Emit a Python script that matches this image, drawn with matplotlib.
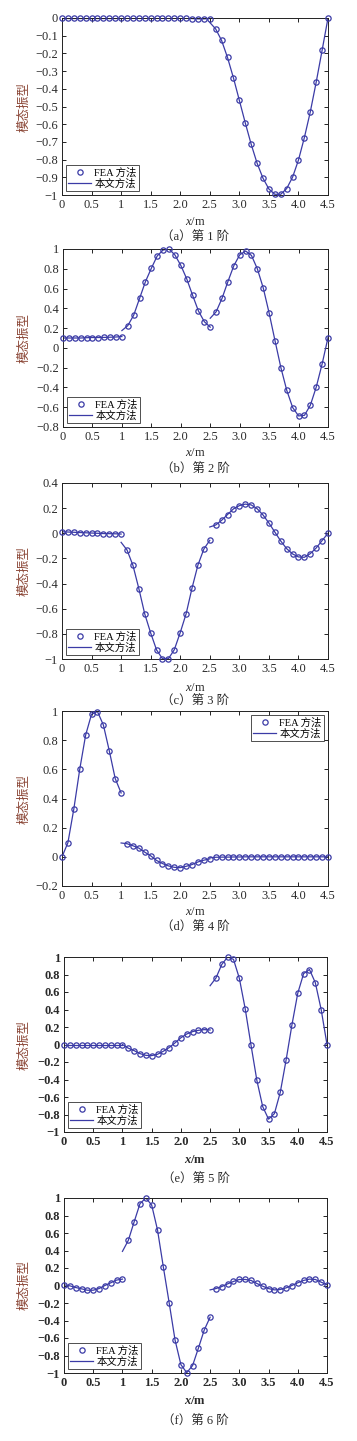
import matplotlib
matplotlib.use('agg')
import matplotlib.pyplot as plt
from matplotlib.ticker import FuncFormatter, MultipleLocator

plt.rcParams['font.family'] = ['Liberation Serif', 'Noto Sans CJK SC']
plt.rcParams['axes.unicode_minus'] = True
plt.rcParams['mathtext.fontset'] = 'custom'
plt.rcParams['mathtext.rm'] = 'Liberation Serif'
plt.rcParams['mathtext.it'] = 'Liberation Serif:italic'
plt.rcParams['mathtext.bf'] = 'Liberation Serif:bold'
plt.rcParams['mathtext.bfit'] = 'Liberation Serif:italic:bold'

# x positions of FEA nodes, step 0.1 m, split in three beam segments
x_seg1 = [0.0, 0.1, 0.2, 0.3, 0.4, 0.5, 0.6, 0.7, 0.8, 0.9, 1.0]
x_seg2 = [1.1, 1.2, 1.3, 1.4, 1.5, 1.6, 1.7, 1.8, 1.9, 2.0, 2.1, 2.2, 2.3, 2.4, 2.5]
x_seg3 = [2.6, 2.7, 2.8, 2.9, 3.0, 3.1, 3.2, 3.3, 3.4, 3.5, 3.6, 3.7, 3.8, 3.9,
          4.0, 4.1, 4.2, 4.3, 4.4, 4.5]

# mode 1
m1_seg1 = [0.0, 0.0, 0.0, 0.0, 0.0, 0.0, 0.0, 0.0, 0.0, 0.0, 0.0]
m1_seg2 = [0.0, 0.0, 0.0, 0.0, 0.0, 0.0, 0.0, 0.0, 0.0, -0.002, -0.002, -0.003, -0.005, -0.005, -0.003]
m1_seg3 = [-0.062, -0.127, -0.223, -0.338, -0.465, -0.592, -0.713, -0.82, -0.905, -0.966,
           -0.996, -0.996, -0.964, -0.9, -0.803, -0.676, -0.531, -0.363, -0.183, 0.0]
m1_start2, m1_start3 = 0.0, -0.025

# mode 2
m2_seg1 = [0.10, 0.10, 0.10, 0.10, 0.103, 0.105, 0.105, 0.106, 0.108, 0.11, 0.115]
m2_seg2 = [0.225, 0.33, 0.50, 0.67, 0.805, 0.93, 0.99, 1.0, 0.94, 0.835, 0.70, 0.533, 0.373, 0.265, 0.21]
m2_seg3 = [0.365, 0.50, 0.67, 0.83, 0.94, 0.98, 0.935, 0.80, 0.607, 0.353,
           0.073, -0.2, -0.43, -0.603, -0.688, -0.682, -0.58, -0.397, -0.163, 0.104]
m2_start2, m2_start3 = 0.175, 0.30

# mode 3
m3_seg1 = [0.012, 0.01, 0.008, 0.006, 0.004, 0.002, 0.0, -0.002, -0.003, -0.004, -0.006]
m3_seg2 = [-0.133, -0.255, -0.44, -0.642, -0.793, -0.928, -0.998, -0.998, -0.926, -0.79,
           -0.64, -0.435, -0.252, -0.125, -0.056]
m3_seg3 = [0.066, 0.103, 0.149, 0.194, 0.22, 0.232, 0.226, 0.196, 0.146, 0.082,
           0.01, -0.061, -0.122, -0.164, -0.188, -0.191, -0.162, -0.117, -0.058, 0.0]
m3_start2, m3_start3 = -0.072, 0.05

# mode 4
m4_seg1 = [0.0, 0.097, 0.328, 0.60, 0.835, 0.978, 0.996, 0.904, 0.727, 0.537, 0.438]
m4_seg2 = [0.09, 0.076, 0.06, 0.032, 0.007, -0.025, -0.046, -0.062, -0.072, -0.074,
           -0.065, -0.053, -0.035, -0.023, -0.014]
m4_seg3 = [-0.003, -0.002, -0.002, -0.001, -0.001, 0.0, 0.0, 0.0, 0.0, 0.0,
           0.0, 0.0, 0.0, 0.0, 0.0, 0.0, 0.0, 0.0, 0.0, 0.0]
m4_start2, m4_start3 = 0.095, -0.007

# mode 5
m5_seg1 = [0.0, 0.0, 0.0, 0.0, 0.0, 0.0, 0.0, 0.0, 0.0, 0.0, 0.0]
m5_seg2 = [-0.042, -0.07, -0.104, -0.124, -0.127, -0.112, -0.077, -0.035, 0.019, 0.077,
           0.12, 0.147, 0.162, 0.17, 0.166]
m5_seg3 = [0.76, 0.915, 1.0, 0.973, 0.757, 0.41, -0.008, -0.41, -0.71, -0.853,
           -0.79, -0.548, -0.178, 0.224, 0.587, 0.81, 0.857, 0.707, 0.40, 0.0]
m5_start2, m5_start3 = 0.0, 0.672

# mode 6
m6_seg1 = [0.008, -0.004, -0.023, -0.038, -0.054, -0.054, -0.035, 0.0, 0.031, 0.062, 0.073]
m6_seg2 = [0.515, 0.727, 0.935, 1.0, 0.92, 0.635, 0.21, -0.2, -0.623, -0.904,
           -0.996, -0.915, -0.715, -0.508, -0.362]
m6_seg3 = [-0.035, -0.012, 0.019, 0.046, 0.069, 0.069, 0.058, 0.023, -0.008, -0.035,
           -0.05, -0.046, -0.027, 0.0, 0.031, 0.058, 0.073, 0.069, 0.038, 0.008]
m6_start2, m6_start3 = 0.39, -0.05

captions = ['（a）第 1 阶', '（b）第 2 阶', '（c）第 3 阶', '（d）第 4 阶', '（e）第 5 阶', '（f）第 6 阶']
ylims = [(-1, 0), (-0.8, 1), (-1, 0.4), (-0.2, 1), (-1, 1), (-1, 1)]
ysteps = [0.1, 0.2, 0.2, 0.2, 0.2, 0.2]
legend_locs = ['lower left', 'lower left', 'lower left', 'upper right', 'lower left', 'lower left']

modes = [
    (m1_seg1, m1_seg2, m1_seg3, m1_start2, m1_start3),
    (m2_seg1, m2_seg2, m2_seg3, m2_start2, m2_start3),
    (m3_seg1, m3_seg2, m3_seg3, m3_start2, m3_start3),
    (m4_seg1, m4_seg2, m4_seg3, m4_start2, m4_start3),
    (m5_seg1, m5_seg2, m5_seg3, m5_start2, m5_start3),
    (m6_seg1, m6_seg2, m6_seg3, m6_start2, m6_start3),
]

# axes boxes in pixels: left, right, top, bottom
boxes = [(62, 328, 18, 195), (63, 328, 249, 427), (62, 328, 483, 659),
         (62, 328, 711, 886), (64, 327, 957, 1132), (64, 327, 1198, 1373)]
xlabel_y = [222, 453, 688, 912, 1160, 1401]
caption_y = [238, 470, 702, 928, 1180, 1422]
bold_ticks = [False, False, False, False, True, True]

W, H = 357, 1441
blue = '#3b3ba6'
tick_col = '#2a2a2a'
ylab_col = '#8a4535'


def fmt_num(v, pos=None):
    if abs(v) < 1e-9:
        return '0'
    if abs(abs(v) - 1) < 1e-9:
        return '\u22121' if v < 0 else '1'
    s = '%.1f' % abs(v)
    return ('\u2212' + s) if v < 0 else s


fig = plt.figure(figsize=(W / 100, H / 100), dpi=100)

for i, (seg1, seg2, seg3, st2, st3) in enumerate(modes):
    l, r, t, b = boxes[i]
    ax = fig.add_axes([l / W, 1 - b / H, (r - l) / W, (b - t) / H])

    fea_x = x_seg1 + x_seg2 + x_seg3
    fea_y = seg1 + seg2 + seg3
    ax.plot(fea_x, fea_y, 'o', ms=3.8, mfc='none', mec=blue, mew=0.9,
            clip_on=False, zorder=3, label='FEA 方法')

    ax.plot(x_seg1, seg1, '-', color=blue, lw=0.9, label='本文方法')
    ax.plot([1.0] + x_seg2, [st2] + seg2, '-', color=blue, lw=0.9)
    ax.plot([2.5] + x_seg3, [st3] + seg3, '-', color=blue, lw=0.9)

    ax.set_xlim(0, 4.5)
    ax.set_ylim(*ylims[i])
    ax.xaxis.set_major_locator(MultipleLocator(0.5))
    ax.yaxis.set_major_locator(MultipleLocator(ysteps[i]))
    ax.xaxis.set_major_formatter(FuncFormatter(fmt_num))
    ax.yaxis.set_major_formatter(FuncFormatter(fmt_num))
    ax.tick_params(direction='in', top=True, right=True, length=3, width=0.6,
                   labelsize=9, labelcolor=tick_col, pad=3)
    if bold_ticks[i]:
        for lab in ax.get_xticklabels() + ax.get_yticklabels():
            lab.set_fontweight('bold')
    for sp in ax.spines.values():
        sp.set_linewidth(0.7)
        sp.set_color('#222222')

    leg = ax.legend(loc=legend_locs[i], fontsize=7.5, frameon=True, fancybox=False,
                    edgecolor='#222222', borderpad=0.25, borderaxespad=0.35,
                    handlelength=2.2, handletextpad=0.3, labelspacing=0.1)
    leg.get_frame().set_linewidth(0.7)

    fig.text(24 / W, 1 - (t + b) / 2 / H, '模态振型', rotation=90, ha='center', va='center',
             fontsize=9, color=ylab_col, family=['Noto Sans CJK SC'])
    xl = r'$\mathbfit{x}$/m' if bold_ticks[i] else r'$x$/m'
    fig.text((l + r) / 2 / W, 1 - xlabel_y[i] / H, xl, ha='center', va='center',
             fontsize=9, color=tick_col, fontweight='bold' if bold_ticks[i] else 'normal')
    fig.text((l + r) / 2 / W, 1 - caption_y[i] / H, captions[i], ha='center', va='center',
             fontsize=9, color=tick_col, family=['Liberation Serif', 'Noto Sans CJK SC'])

fig.savefig('out.png', dpi=100)
